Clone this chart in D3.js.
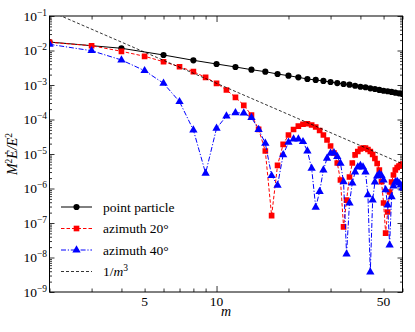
<!DOCTYPE html>
<html>
<head>
<meta charset="utf-8">
<script src="https://cdn.jsdelivr.net/npm/d3@7"></script>
<style>
  body { margin: 0; background: #fff; }
  svg { display: block; }
</style>
</head>
<body>
<svg id="chart"></svg>
<script>
// data
var mPoint = d3.range(2, 61, 2);
var pointParticle = [0.0176, 0.0116, 0.00741, 0.0052, 0.00406, 0.00333, 0.00278, 0.00243, 0.00208, 0.00186,
  0.00167, 0.00149, 0.0014, 0.00131, 0.00122, 0.00114, 0.00107, 0.00102, 9.5e-4, 8.9e-4,
  8.6e-4, 8.0e-4, 7.65e-4, 7.2e-4, 6.8e-4, 6.6e-4, 6.3e-4, 6.0e-4, 5.75e-4, 5.5e-4];

var mAll = d3.range(2, 61);
var azimuth20 = [0.0173, 0.01377, 0.00948, 0.00679, 0.00473, 0.00339, 0.00243, 0.00167, 0.00112, 7.16e-4,
  4.4e-4, 2.58e-4, 1.35e-4, 5.2e-5, 1.22e-5, 1.63e-7, 4.7e-6, 1.91e-5, 3.56e-5, 5.13e-5,
  6.4e-5, 7.3e-5, 7.55e-5, 6.93e-5, 6.07e-5, 4.8e-5, 3.56e-5, 2.55e-5, 1.71e-5, 1.07e-5,
  5.5e-6, 1.76e-6, 7.7e-8, 4.6e-7, 2.15e-6, 5.5e-6, 9.4e-6, 1.18e-5, 1.4e-5, 1.49e-5,
  1.49e-5, 1.35e-5, 1.18e-5, 9.7e-6, 7.4e-6, 5.3e-6, 3.44e-6, 1.57e-6, 3.8e-7, 5.1e-8,
  2.08e-7, 7.9e-7, 1.54e-6, 2.46e-6, 3.44e-6, 4.06e-6, 4.49e-6, 4.8e-6, 5.13e-6];
var azimuth40 = [0.0151, 0.00986, 0.00531, 0.0026, 0.00112, 3.28e-4, 4.96e-5, 2.76e-6, 5.56e-5, 1.26e-4,
  1.57e-4, 1.54e-4, 1.14e-4, 5.13e-5, 2.04e-5, 2.35e-6, 1.24e-6, 9.4e-6, 2.18e-5, 2.72e-5,
  2.72e-5, 2.27e-5, 1.22e-5, 3.85e-6, 2.85e-7, 8.1e-7, 3.44e-6, 7.5e-6, 1.05e-5, 1.09e-5,
  8.4e-6, 5.4e-6, 1.57e-6, 1.26e-8, 3.8e-7, 1.44e-6, 3.0e-6, 4.2e-6, 4.64e-6, 4.2e-6,
  3.0e-6, 6.5e-7, 3.8e-9, 4.6e-7, 1.54e-6, 2.3e-6, 2.63e-6, 2.38e-6, 1.76e-6, 9.1e-7,
  3.3e-7, 2.3e-8, 5.7e-7, 1.18e-6, 1.54e-6, 1.6e-6, 1.44e-6, 1.26e-6, 1.03e-6];

var mRef = [2, 60];
var invCube = [0.14, 5.2e-6];

var xMajor = [10];
var xMinor = [2, 3, 4, 5, 6, 7, 8, 9, 20, 30, 40, 50, 60];
var xLabels = [5, 10, 50];
var yDecades = [-9, -8, -7, -6, -5, -4, -3, -2, -1];

render();

function render() {
var W = 415, H = 332;
var L = 49.5, R = 402.5, T = 16, B = 292;
var FONT = '"Liberation Serif", "DejaVu Serif", serif';

var svg = d3.select('#chart').attr('width', W).attr('height', H)
  .attr('font-family', FONT);

var x = d3.scaleLog().domain([2, 60]).range([L, R]);
var y = d3.scaleLog().domain([1e-9, 1e-1]).range([B, T]);

svg.append('defs').append('clipPath').attr('id', 'plotclip')
  .append('rect').attr('x', L).attr('y', T).attr('width', R - L).attr('height', B - T);

// minor y ticks: 2..9 in every decade
var yMinor = [];
yDecades.forEach(function(e) {
  if (e >= -1) return;
  for (var k = 2; k <= 9; k++) yMinor.push(k * Math.pow(10, e));
});
var yMajor = yDecades.map(function(e) { return Math.pow(10, e); });

function axisGroup(gen) {
  var g = svg.append('g').call(gen);
  g.select('.domain').remove();
  g.selectAll('line').attr('stroke', '#000').attr('stroke-width', 0.8);
  return g;
}

axisGroup(d3.axisBottom(x).tickValues(xMajor).tickSize(-6).tickFormat('')).attr('transform', 'translate(0,' + B + ')');
axisGroup(d3.axisBottom(x).tickValues(xMinor).tickSize(-3.5).tickFormat('')).attr('transform', 'translate(0,' + B + ')');
axisGroup(d3.axisTop(x).tickValues(xMajor).tickSize(-6).tickFormat('')).attr('transform', 'translate(0,' + T + ')');
axisGroup(d3.axisTop(x).tickValues(xMinor).tickSize(-3.5).tickFormat('')).attr('transform', 'translate(0,' + T + ')');
axisGroup(d3.axisLeft(y).tickValues(yMajor).tickSize(-5).tickFormat('')).attr('transform', 'translate(' + L + ',0)');
axisGroup(d3.axisLeft(y).tickValues(yMinor).tickSize(-2.5).tickFormat('')).attr('transform', 'translate(' + L + ',0)');
axisGroup(d3.axisRight(y).tickValues(yMajor).tickSize(-5).tickFormat('')).attr('transform', 'translate(' + R + ',0)');
axisGroup(d3.axisRight(y).tickValues(yMinor).tickSize(-2.5).tickFormat('')).attr('transform', 'translate(' + R + ',0)');

// x tick labels
svg.append('g').selectAll('text').data(xLabels).enter().append('text')
  .attr('x', function(d) { return x(d); })
  .attr('y', B + 14)
  .attr('text-anchor', 'middle')
  .attr('font-family', FONT)
  .style('font-size', '13.5px')
  .text(function(d) { return d; });

// y tick labels 10^e
var yl = svg.append('g').selectAll('text').data(yDecades).enter().append('text')
  .attr('x', 47)
  .attr('y', function(d) { return y(Math.pow(10, d)) + 4.5; })
  .attr('text-anchor', 'end')
  .attr('font-family', FONT)
  .style('font-size', '13.5px');
yl.append('tspan').text('10');
yl.append('tspan').attr('dy', -5).style('font-size', '9.5px')
  .text(function(d) { return '\u2212' + (-d); });

// axis titles
svg.append('text')
  .attr('x', (L + R) / 2).attr('y', 316)
  .attr('text-anchor', 'middle')
  .attr('font-family', FONT)
  .style('font-size', '14px').style('font-style', 'italic')
  .text('m');

var yt = svg.append('text')
  .attr('transform', 'translate(17,' + ((T + B) / 2) + ') rotate(-90)')
  .attr('text-anchor', 'middle')
  .attr('font-family', FONT)
  .style('font-size', '14px').style('font-style', 'italic');
yt.append('tspan').text('M');
yt.append('tspan').attr('dy', -5).style('font-size', '9.5px').style('font-style', 'normal').text('2');
yt.append('tspan').attr('dy', 5).text('\u0116/E');
yt.append('tspan').attr('dy', -5).style('font-size', '9.5px').style('font-style', 'normal').text('2');

// series
var plot = svg.append('g').attr('clip-path', 'url(#plotclip)');
var line = d3.line().x(function(d) { return x(d[0]); }).y(function(d) { return y(d[1]); });

var series = [
  { label: 'point particle', data: d3.zip(mPoint, pointParticle), color: '#000', dash: null, width: 1, marker: d3.symbolCircle, msize: 30 },
  { label: 'azimuth 20\u00b0', data: d3.zip(mAll, azimuth20), color: '#ff0000', dash: '3.5,2', width: 1, marker: d3.symbolSquare, msize: 32 },
  { label: 'azimuth 40\u00b0', data: d3.zip(mAll, azimuth40), color: '#0000ff', dash: '5,1.8,1.2,1.8', width: 1, marker: d3.symbolTriangle, msize: 30 },
  { label: '1/m3', data: d3.zip(mRef, invCube), color: '#000', dash: '3,2', width: 0.8, marker: null }
];

series.forEach(function(s) {
  plot.append('path')
    .attr('d', line(s.data))
    .attr('fill', 'none')
    .attr('stroke', s.color)
    .attr('stroke-width', s.width)
    .attr('stroke-dasharray', s.dash);
  if (s.marker) {
    plot.append('g').selectAll('path').data(s.data).enter().append('path')
      .attr('d', d3.symbol().type(s.marker).size(s.msize))
      .attr('transform', function(d) { return 'translate(' + x(d[0]) + ',' + y(d[1]) + ')'; })
      .attr('fill', s.color);
  }
});

// frame
svg.append('rect').attr('x', L).attr('y', T).attr('width', R - L).attr('height', B - T)
  .attr('fill', 'none').attr('stroke', '#000').attr('stroke-width', 1);

// legend
var leg = svg.append('g');
series.forEach(function(s, i) {
  var ly = 207 + i * 21.5;
  leg.append('line').attr('x1', 61).attr('x2', 92).attr('y1', ly).attr('y2', ly)
    .attr('stroke', s.color).attr('stroke-width', s.width).attr('stroke-dasharray', s.dash);
  if (s.marker) {
    leg.append('path').attr('d', d3.symbol().type(s.marker).size(s.msize))
      .attr('transform', 'translate(76.5,' + ly + ')').attr('fill', s.color);
  }
  var t = leg.append('text').attr('x', 103).attr('y', ly + 4.5)
    .attr('font-family', FONT).style('font-size', '13.5px');
  if (s.label === '1/m3') {
    t.append('tspan').text('1/');
    t.append('tspan').style('font-style', 'italic').text('m');
    t.append('tspan').attr('dy', -5).style('font-size', '9.5px').text('3');
  } else {
    t.text(s.label);
  }
});
}
</script>
</body>
</html>
